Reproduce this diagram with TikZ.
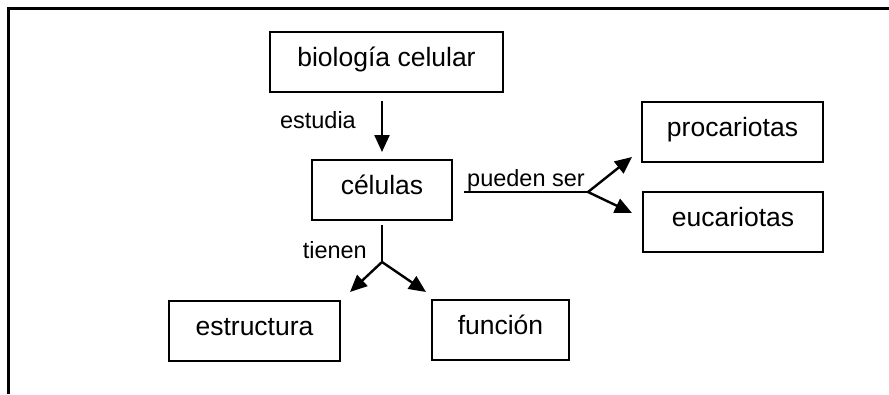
\documentclass[tikz,border=0pt]{standalone}
\usepackage{fontspec}
\setmainfont{Liberation Sans}
\usetikzlibrary{arrows.meta}

\begin{document}
\begin{tikzpicture}[x=1pt, y=-1pt,
    concept/.style={draw, line width=2pt, inner sep=0pt, minimum height=60pt,
        text height=16pt, text depth=7pt, font=\fontsize{26.5}{30}\selectfont},
    link/.style={inner sep=0pt, font=\fontsize{23.5}{28}\selectfont},
    ln/.style={line width=2.4pt},
    arr/.style={line width=2.4pt, -{Triangle[length=17pt,width=15pt]}}]
\useasboundingbox (0,0) rectangle (889,394);
% Frame
\draw[line width=3pt] (889,8) -- (8,8) -- (8,394);

% Concepts
\node[concept, minimum width=233pt] (bio) at (386.5,62) {biología celular};
\node[concept, minimum width=140pt] (cel) at (382,190) {células};
\node[concept, minimum width=181pt] (pro) at (732.5,132) {procariotas};
\node[concept, minimum width=180pt] (euc) at (733,222) {eucariotas};
\node[concept, minimum width=171pt] (est) at (254.5,330.5) {estructura};
\node[concept, minimum width=137pt] (fun) at (500.5,329.5) {función};

% Branch points and arrow ends
\coordinate (split) at (588,192);
\coordinate (fork) at (382,262);
\coordinate (toPro) at (632,157);
\coordinate (toEuc) at (632,213);
\coordinate (toEst) at (350,292);
\coordinate (toFun) at (426,292);

% estudia
\draw[arr, shorten <=8pt, shorten >=7pt] (cel.north |- bio.south) -- (cel.north);
\node[link, anchor=base east] (estudia) at (356,128) {estudia};

% pueden ser
\draw[ln, shorten <=11pt] (cel.east |- split) -- (split);
\draw[arr] (split) -- (toPro);
\draw[arr] (split) -- (toEuc);
\node[link, anchor=base west] (pueden) at (467,186) {pueden ser};

% tienen
\draw[ln, shorten <=4pt] (cel.south) -- (fork);
\draw[arr] (fork) -- (toEst);
\draw[arr] (fork) -- (toFun);
\node[link, anchor=base east] (tienen) at (367,258) {tienen};
\end{tikzpicture}
\end{document}
